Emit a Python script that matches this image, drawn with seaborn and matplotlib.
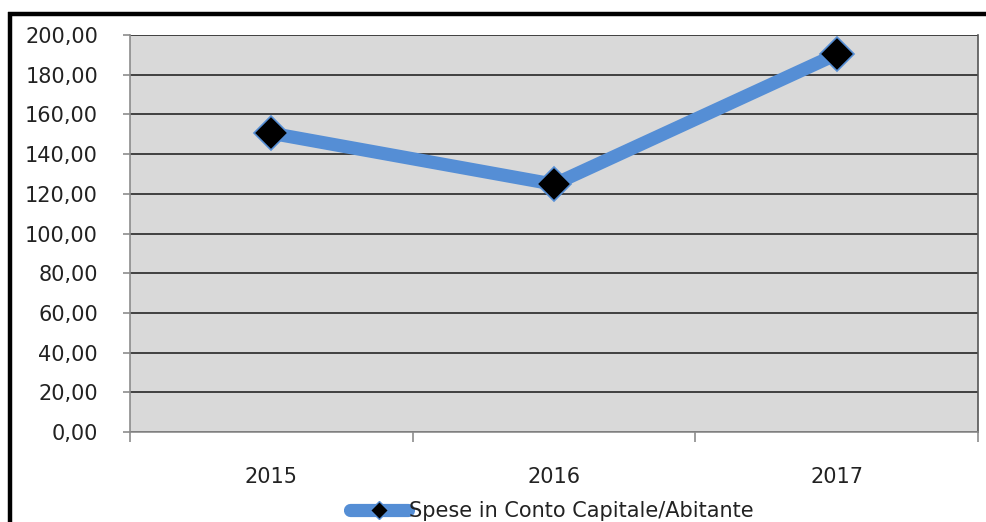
import pandas as pd
import seaborn as sns
import matplotlib.pyplot as plt
from matplotlib.ticker import FuncFormatter, FixedLocator
from matplotlib.lines import Line2D

# Data
years = ['2015', '2016', '2017']
spese = [150.5, 124.8, 190.3]
series_name = 'Spese in Conto Capitale/Abitante'

df = pd.DataFrame({'anno': years, 'valore': spese})

sns.set_style('white')
plt.rcParams['font.family'] = ['DejaVu Sans']

fig = plt.figure(figsize=(9.87, 5.22), dpi=100)
ax = fig.add_axes([130 / 987, 1 - 432 / 522, 848 / 987, 397 / 522])

blue = '#558ed5'
sns.lineplot(data=df, x='anno', y='valore', ax=ax, color=blue, linewidth=9.5,
             marker='D', markersize=17, markerfacecolor='black',
             markeredgecolor=blue, markeredgewidth=1.2, solid_capstyle='butt')

ax.set_facecolor('#d9d9d9')
ax.set_xlim(-0.5, 2.5)
ax.set_ylim(0, 200)
ax.set_yticks(range(0, 201, 20))
ax.yaxis.set_major_formatter(FuncFormatter(lambda v, p: f'{v:.2f}'.replace('.', ',')))
ax.grid(axis='y', color='#404040', linewidth=1.4)
ax.set_axisbelow(True)
ax.set_xlabel('')
ax.set_ylabel('')

# category labels at centres, tick marks at boundaries
ax.xaxis.set_minor_locator(FixedLocator([-0.5, 0.5, 1.5, 2.5]))
ax.tick_params(axis='x', which='major', length=0, pad=25, labelsize=15, colors='#222222')
ax.tick_params(axis='x', which='minor', bottom=True, length=7, width=1.2,
               color='#8c8c8c', direction='out')
ax.tick_params(axis='y', length=5, width=1.2, color='#8c8c8c', pad=18, labelsize=15,
               labelcolor='#222222', left=True)

for side in ['left', 'bottom']:
    ax.spines[side].set_color('#8c8c8c')
    ax.spines[side].set_linewidth(1.2)
ax.spines['right'].set_color('#555555')
ax.spines['right'].set_linewidth(1.2)
ax.spines['top'].set_visible(False)

# legend at the bottom (cut off by the image edge)
handle = Line2D([], [], color=blue, linewidth=9.5, marker='D', markersize=9,
                markerfacecolor='black', markeredgecolor=blue, solid_capstyle='round')
fig.legend([handle], [series_name], loc='center', bbox_to_anchor=(552 / 987, 1 - 511 / 522),
           frameon=False, fontsize=15, handlelength=2.8, handletextpad=0.05,
           labelcolor='#222222')

# black frame lines at top and left
fig.add_artist(Line2D([8 / 987, 1], [1 - 14 / 522, 1 - 14 / 522], color='black',
                      linewidth=3.2, solid_capstyle='butt'))
fig.add_artist(Line2D([10 / 987, 10 / 987], [0, 1 - 12 / 522], color='black',
                      linewidth=3.2, solid_capstyle='butt'))

fig.savefig('out.png', dpi=100)
